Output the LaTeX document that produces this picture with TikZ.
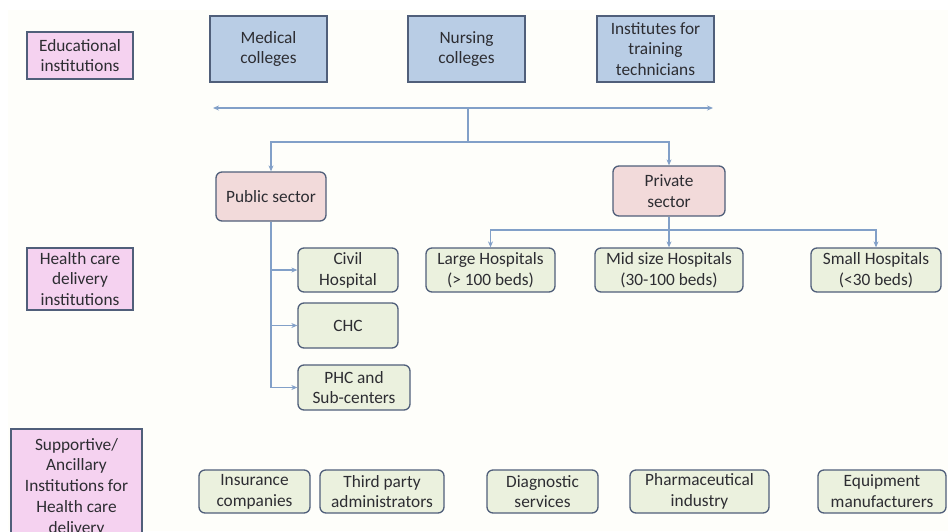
\documentclass[tikz,border=0pt]{standalone}
\usepackage{fontspec}
\setmainfont{Carlito}
\usetikzlibrary{arrows.meta}
\definecolor{bord}{RGB}{80,95,122}
\definecolor{lblpink}{RGB}{245,210,240}
\definecolor{edublue}{RGB}{185,205,229}
\definecolor{secpink}{RGB}{242,218,218}
\definecolor{grn}{RGB}{235,241,222}
\definecolor{arr}{RGB}{130,160,200}
\definecolor{txt}{RGB}{45,45,50}
\definecolor{bgcream}{RGB}{254,254,250}
\begin{document}
\begin{tikzpicture}[x=1pt,y=-1pt,
  base/.style={draw=bord, line width=1.3pt, align=center, inner sep=0pt, text=txt,
    font=\fontsize{17.3}{20.8}\selectfont},
  lbl/.style={base, fill=lblpink},
  edubox/.style={base, fill=edublue},
  secbox/.style={base, fill=secpink, rounded corners=6pt},
  grnbox/.style={base, fill=grn, rounded corners=6pt},
  conn/.style={draw=arr, line width=1.1pt, -{Stealth[length=6pt,width=5pt]}},
  plain/.style={draw=arr, line width=1.1pt}
]
\clip (0,0) rectangle (948,531);
\fill[white] (0,0) rectangle (948,531);
\fill[bgcream] (8,10) rectangle (948,531);

% row labels
\node[lbl, minimum width=106pt, minimum height=47pt] (edu) at (80,55.5) {Educational\\institutions};
\node[lbl, minimum width=106pt, minimum height=62pt] (hcd) at (80,279) {Health care\\delivery\\institutions};
\node[lbl, minimum width=131pt, minimum height=116pt] (supp) at (76.5,487) {Supportive/\\Ancillary\\Institutions for\\Health care\\delivery};

% educational
\node[edubox, minimum width=117pt, minimum height=66pt] (med) at (268.5,49) {Medical\\colleges};
\node[edubox, minimum width=117pt, minimum height=66pt] (nurs) at (466.5,49) {Nursing\\colleges};
\node[edubox, minimum width=117pt, minimum height=66pt] (inst) at (655.5,49) {Institutes for\\training\\technicians};

% sectors
\node[secbox, minimum width=110pt, minimum height=49pt] (pub) at (271,196.5) {Public sector};
\node[secbox, minimum width=112pt, minimum height=50pt] (priv) at (669,191) {Private\\sector};

% public
\node[grnbox, minimum width=100pt, minimum height=44pt] (civil) at (348,270) {Civil\\Hospital};
\node[grnbox, minimum width=100pt, minimum height=45pt] (chc) at (348,325.5) {CHC};
\node[grnbox, minimum width=112pt, minimum height=45pt] (phc) at (354,387.5) {PHC and\\Sub-centers};

% private
\node[grnbox, minimum width=129pt, minimum height=44pt] (large) at (490.5,270) {Large Hospitals\\(> 100 beds)};
\node[grnbox, minimum width=148pt, minimum height=44pt] (mid) at (669,270) {Mid size Hospitals\\(30-100 beds)};
\node[grnbox, minimum width=130pt, minimum height=44pt] (small) at (876,270) {Small Hospitals\\(<30 beds)};

% supportive
\node[grnbox, minimum width=111pt, minimum height=43pt] (ins) at (254.5,491.5) {Insurance\\companies};
\node[grnbox, minimum width=124pt, minimum height=43pt] (tpa) at (382,491.5) {Third party\\administrators};
\node[grnbox, minimum width=111pt, minimum height=43pt] (diag) at (542.5,491.5) {Diagnostic\\services};
\node[grnbox, minimum width=139pt, minimum height=43pt] (pharm) at (699.5,491.5) {Pharmaceutical\\industry};
\node[grnbox, minimum width=128pt, minimum height=43pt] (equip) at (882,491.5) {Equipment\\manufacturers};

% connectors
\coordinate (hl) at (213,108);
\coordinate (hr) at (713,108);
\coordinate (j1) at (468,108);
\coordinate (j2) at (468,142);
\draw[draw=arr, line width=1.1pt, {Stealth[length=6pt,width=5pt]}-{Stealth[length=6pt,width=5pt]}] (hl) -- (hr);
\draw[plain] (j1) -- (j2);
\draw[conn] (j2) -| (pub.north);
\draw[conn] (j2) -| (priv.north);

\draw[plain] (pub.south) -- (pub.south |- phc.west);
\draw[conn] (pub.south |- civil.west) -- (civil.west);
\draw[conn] (pub.south |- chc.west) -- (chc.west);
\draw[conn] (pub.south |- phc.west) -- (phc.west);

\coordinate (pj) at (669,230);
\draw[conn] (priv.south) -- (mid.north);
\draw[conn] (pj) -| (large.north);
\draw[conn] (pj) -| (small.north);
\end{tikzpicture}
\end{document}
